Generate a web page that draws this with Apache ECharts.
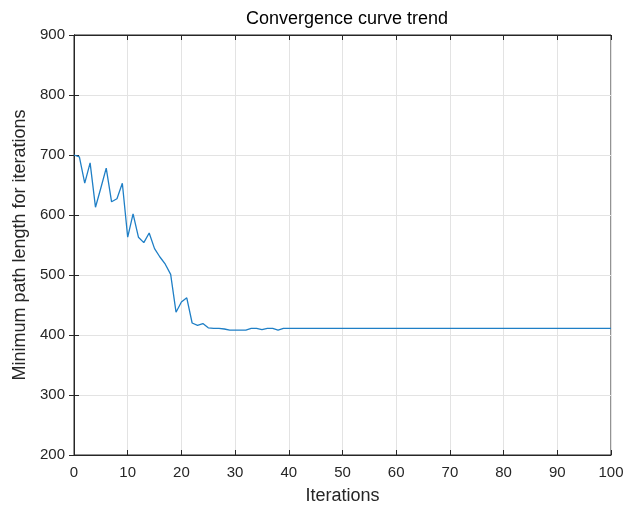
<!DOCTYPE html>
<html lang="en">
<head>
    <meta charset="UTF-8">
    <title>Convergence curve trend</title>
    <style>
        html, body { margin: 0; padding: 0; background: #fff; }
        #chart { width: 633px; height: 507px; }
    </style>
</head>
<body>
<div id="chart"></div>

<script type="text/javascript" src="https://cdn.jsdelivr.net/npm/echarts@6/dist/echarts.min.js"></script>
<script>
    // iterations 0..100
    var iterations = [];
    for (var i = 0; i <= 100; i++) { iterations.push(i); }

    // minimum path length per iteration
    var pathLength = [
        700, 697, 653, 687, 613, 645, 678, 622, 627, 653,
        563, 602, 563, 554, 570, 544, 530, 518, 501, 438,
        455, 462, 420, 416, 419, 412, 411, 411, 410, 408,
        408, 408, 408, 411, 411, 409, 411, 411, 408, 411,
        411, 411, 411, 411, 411, 411, 411, 411, 411, 411,
        411, 411, 411, 411, 411, 411, 411, 411, 411, 411,
        411, 411, 411, 411, 411, 411, 411, 411, 411, 411,
        411, 411, 411, 411, 411, 411, 411, 411, 411, 411,
        411, 411, 411, 411, 411, 411, 411, 411, 411, 411,
        411, 411, 411, 411, 411, 411, 411, 411, 411, 411,
        411
    ];

    var xTicks = { min: 0, max: 100, interval: 10 };
    var yTicks = { min: 200, max: 900, interval: 100 };

    var chart = echarts.init(document.getElementById('chart'));

    var seriesData = [];
    for (var j = 0; j < iterations.length; j++) {
        seriesData.push([iterations[j], pathLength[j]]);
    }

    var font = 'Liberation Sans, Arial, sans-serif';
    var dark = '#262626';

    var option = {
        animation: false,
        backgroundColor: '#fff',
        title: {
            text: 'Convergence curve trend',
            left: 342,
            top: 5,
            textAlign: 'center',
            textStyle: { fontFamily: font, fontSize: 18, fontWeight: 'normal', color: '#000' }
        },
        grid: {
            left: 74,
            right: 22,
            top: 35,
            bottom: 52,
            containLabel: false,
            outerBoundsMode: 'none',
            show: true,
            borderColor: dark,
            borderWidth: 1,
            backgroundColor: '#fff'
        },
        xAxis: [
            {
                type: 'value',
                min: xTicks.min,
                max: xTicks.max,
                interval: xTicks.interval,
                name: 'Iterations',
                nameLocation: 'middle',
                nameGap: 32,
                nameTextStyle: { fontFamily: font, fontSize: 18, color: dark },
                axisLine: { show: true, lineStyle: { color: dark } },
                axisTick: { show: true, inside: true, length: 5, lineStyle: { color: dark } },
                axisLabel: { fontFamily: font, fontSize: 15, color: dark, margin: 10 },
                splitLine: { show: true, lineStyle: { color: '#e3e3e3', width: 1 } }
            },
            {
                type: 'value',
                position: 'top',
                min: xTicks.min,
                max: xTicks.max,
                interval: xTicks.interval,
                axisLine: { show: true, lineStyle: { color: dark } },
                axisTick: { show: true, inside: true, length: 5, lineStyle: { color: dark } },
                axisLabel: { show: false },
                splitLine: { show: false }
            }
        ],
        yAxis: [
            {
                type: 'value',
                min: yTicks.min,
                max: yTicks.max,
                interval: yTicks.interval,
                name: 'Minimum path length for iterations',
                nameLocation: 'middle',
                nameGap: 41,
                nameTextStyle: { fontFamily: font, fontSize: 18, color: dark },
                axisLine: { show: true, lineStyle: { color: dark } },
                axisTick: { show: true, inside: true, length: 5, lineStyle: { color: dark } },
                axisLabel: { fontFamily: font, fontSize: 15, color: dark, margin: 9 },
                splitLine: { show: true, lineStyle: { color: '#e3e3e3', width: 1 } }
            },
            {
                type: 'value',
                position: 'right',
                min: yTicks.min,
                max: yTicks.max,
                interval: yTicks.interval,
                axisLine: { show: true, lineStyle: { color: dark } },
                axisTick: { show: true, inside: true, length: 5, lineStyle: { color: dark } },
                axisLabel: { show: false },
                splitLine: { show: false }
            }
        ],
        series: [
            {
                type: 'line',
                data: seriesData,
                showSymbol: false,
                symbol: 'none',
                lineStyle: { color: '#1f7fc6', width: 1.3 },
                z: 3
            }
        ]
    };

    chart.setOption(option);
</script>
</body>
</html>
